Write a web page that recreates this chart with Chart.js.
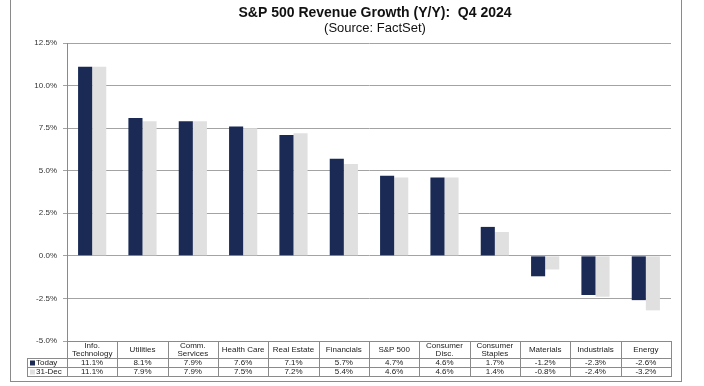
<!DOCTYPE html>
<html>
<head>
<meta charset="utf-8">
<script src="https://cdn.jsdelivr.net/npm/chart.js@4/dist/chart.umd.min.js"></script>
<style>
  html, body { margin: 0; padding: 0; background: #fff; }
  #wrap { position: relative; width: 704px; height: 386px; }
</style>
</head>
<body>
<div id="wrap"><canvas id="chart" width="704" height="386"></canvas></div>
<script>
// sector labels (table header), multi-line where the source wraps
const categories = [
  ['Info.', 'Technology'], ['Utilities'], ['Comm.', 'Services'], ['Health Care'],
  ['Real Estate'], ['Financials'], ['S&P 500'], ['Consumer', 'Disc.'],
  ['Consumer', 'Staples'], ['Materials'], ['Industrials'], ['Energy']
];
const today = [11.1, 8.1, 7.9, 7.6, 7.1, 5.7, 4.7, 4.6, 1.7, -1.2, -2.3, -2.6];
const dec31 = [11.1, 7.9, 7.9, 7.5, 7.2, 5.4, 4.6, 4.6, 1.4, -0.8, -2.4, -3.2];
const seriesNames = ['Today', '31-Dec'];
const seriesColors = ['#1a2a55', '#e0e0e0'];

const FONT = '"Liberation Sans", Arial, sans-serif';

// title, frame and data table below the plot
const tablePlugin = {
  id: 'dataTable',
  afterDraw(chart) {
    const ctx = chart.ctx;
    const area = chart.chartArea;
    const x = chart.scales.x;
    const n = categories.length;
    const colW = (area.right - area.left) / n;

    ctx.save();
    // outer frame
    ctx.strokeStyle = '#8a8a8a';
    ctx.lineWidth = 1;
    ctx.strokeRect(10.5, -2, 671, 383.5);

    // title
    ctx.fillStyle = '#111';
    ctx.textAlign = 'center';
    ctx.textBaseline = 'middle';
    ctx.font = 'bold 14px ' + FONT;
    ctx.fillText('S&P 500 Revenue Growth (Y/Y):  Q4 2024', 375, 13);
    ctx.font = '13px ' + FONT;
    ctx.fillText('(Source: FactSet)', 375, 28);

    // table grid
    const top = area.bottom;
    const hdrBot = top + 17;
    const r1 = hdrBot + 9;
    const r2 = r1 + 9;
    const leftCol = 27;
    ctx.strokeStyle = '#8a8a8a';
    ctx.beginPath();
    ctx.moveTo(area.left, top + 0.5); ctx.lineTo(area.right, top + 0.5);
    [hdrBot, r1, r2].forEach(y => {
      ctx.moveTo(leftCol, y + 0.5); ctx.lineTo(area.right, y + 0.5);
    });
    for (let i = 0; i <= n; i++) {
      const cx = Math.round(area.left + i * colW) + 0.5;
      ctx.moveTo(cx, top); ctx.lineTo(cx, r2 + 1);
    }
    ctx.moveTo(leftCol + 0.5, hdrBot); ctx.lineTo(leftCol + 0.5, r2 + 1);
    ctx.stroke();

    // header labels
    ctx.fillStyle = '#222';
    ctx.font = '8px ' + FONT;
    categories.forEach((lab, i) => {
      const cx = x.getPixelForValue(i);
      const mid = (top + hdrBot) / 2 + 0.5;
      if (lab.length === 1) {
        ctx.fillText(lab[0], cx, mid);
      } else {
        ctx.fillText(lab[0], cx, mid - 4);
        ctx.fillText(lab[1], cx, mid + 4);
      }
    });

    // data rows
    const rows = [today, dec31];
    const rowMid = [(hdrBot + r1) / 2 + 0.5, (r1 + r2) / 2 + 0.5];
    rows.forEach((vals, r) => {
      vals.forEach((v, i) => {
        ctx.fillText(v.toFixed(1) + '%', x.getPixelForValue(i), rowMid[r]);
      });
      // legend key
      ctx.fillStyle = seriesColors[r];
      ctx.fillRect(leftCol + 3, rowMid[r] - 2.5, 5, 5);
      ctx.fillStyle = '#222';
      ctx.textAlign = 'left';
      ctx.fillText(seriesNames[r], leftCol + 9, rowMid[r]);
      ctx.textAlign = 'center';
    });
    ctx.restore();
  }
};

new Chart(document.getElementById('chart'), {
  type: 'bar',
  data: {
    labels: categories.map(c => c.join(' ')),
    datasets: [
      { label: seriesNames[0], data: today, backgroundColor: seriesColors[0] },
      { label: seriesNames[1], data: dec31, backgroundColor: seriesColors[1] }
    ]
  },
  options: {
    responsive: false,
    animation: false,
    layout: { padding: { top: 43, right: 33, bottom: 45, left: 0 } },
    datasets: { bar: { categoryPercentage: 0.56, barPercentage: 1.0 } },
    plugins: { legend: { display: false }, tooltip: { enabled: false } },
    scales: {
      x: { display: false },
      y: {
        min: -5, max: 12.5,
        afterFit(scale) { scale.width = 67; },
        ticks: {
          stepSize: 2.5,
          color: '#333',
          font: { family: FONT, size: 8 },
          padding: 6,
          callback: v => v.toFixed(1) + '%'
        },
        grid: { color: '#a3a3a3', tickLength: 4 },
        border: { color: '#8a8a8a' }
      }
    }
  },
  plugins: [tablePlugin]
});
</script>
</body>
</html>
